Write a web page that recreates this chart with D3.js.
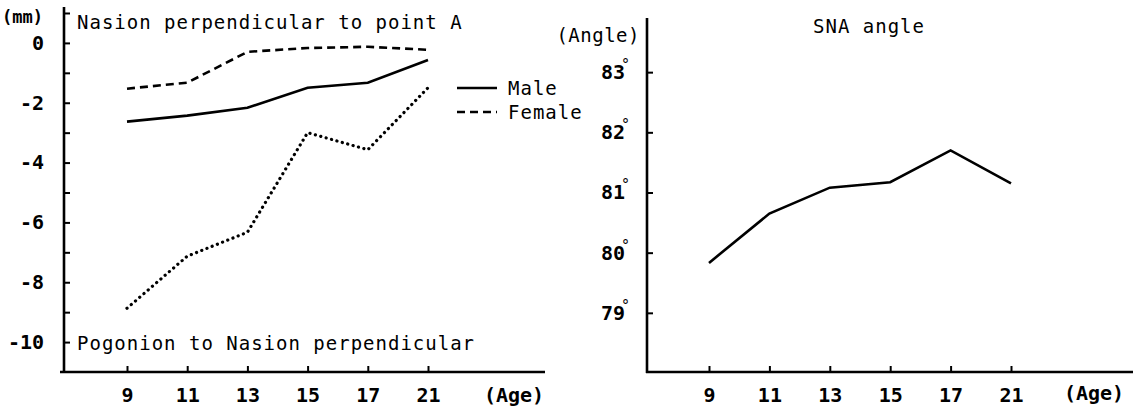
<!DOCTYPE html>
<html>
<head>
<meta charset="utf-8">
<script src="https://cdn.jsdelivr.net/npm/d3@7"></script>
<style>
  body { margin: 0; background: #fff; }
  svg text { font-family: "DejaVu Sans Mono", monospace; fill: #000; }
</style>
</head>
<body>
<div id="chart"></div>
<script>
// data
const ages = ['9', '11', '13', '15', '17', '21'];
const maleA = [-2.63, -2.43, -2.17, -1.5, -1.33, -0.57];
const femaleA = [-1.53, -1.33, -0.3, -0.17, -0.13, -0.23];
const pogonion = [-8.87, -7.13, -6.33, -3.0, -3.57, -1.5];
const snaAngle = [79.83, 80.65, 81.08, 81.17, 81.7, 81.15];
const mmTicks = [0, -2, -4, -6, -8, -10];
const angleTicks = [79, 80, 81, 82, 83];

const width = 1140;
const height = 409;

const svg = d3.select('#chart')
  .append('svg')
  .attr('width', width)
  .attr('height', height);

// ---------- left panel ----------
const left = {axisX: 64, axisY: 372};

const xLeft = d3.scalePoint()
  .domain(ages)
  .range([127, 428]);

const yLeft = d3.scaleLinear()
  .domain([-11, 1.2])
  .range([left.axisY, 7]);

const gLeft = svg.append('g').attr('id', 'left-panel');

// axis lines
gLeft.append('line')
  .attr('x1', left.axisX).attr('x2', left.axisX)
  .attr('y1', yLeft(1.2)).attr('y2', left.axisY + 1)
  .attr('stroke', '#000').attr('stroke-width', 2.6);
gLeft.append('line')
  .attr('x1', 60).attr('x2', 545)
  .attr('y1', left.axisY).attr('y2', left.axisY)
  .attr('stroke', '#000').attr('stroke-width', 2.6);

const yAxisLeft = d3.axisLeft(yLeft)
  .tickValues(d3.range(-10, 2))
  .tickSizeInner(-6)
  .tickSizeOuter(0)
  .tickPadding(20)
  .tickFormat(d => mmTicks.includes(d) ? (d === 0 ? '0' : '-' + Math.abs(d)) : '');

gLeft.append('g')
  .attr('transform', `translate(${left.axisX}, 0)`)
  .call(yAxisLeft)
  .call(g => g.select('.domain').remove())
  .call(g => g.selectAll('line').attr('stroke', '#000').attr('stroke-width', 2))
  .call(g => g.selectAll('text')
    .attr('font-size', 20)
    .attr('font-weight', 'bold')
    .attr('font-family', 'DejaVu Sans Mono'));

const xAxisLeft = d3.axisBottom(xLeft)
  .tickSizeInner(-6)
  .tickSizeOuter(0)
  .tickPadding(16);

gLeft.append('g')
  .attr('transform', `translate(0, ${left.axisY})`)
  .call(xAxisLeft)
  .call(g => g.select('.domain').remove())
  .call(g => g.selectAll('line').attr('stroke', '#000').attr('stroke-width', 2))
  .call(g => g.selectAll('text')
    .attr('font-size', 20)
    .attr('font-weight', 'bold')
    .attr('font-family', 'DejaVu Sans Mono'));

gLeft.append('text')
  .text('(Age)')
  .attr('x', 514).attr('y', 402)
  .attr('text-anchor', 'middle')
  .attr('font-size', 20)
  .attr('font-weight', 'bold');

gLeft.append('text')
  .text('(mm)')
  .attr('x', 2).attr('y', 23)
  .attr('font-size', 17)
  .attr('font-weight', 'bold');

gLeft.append('text')
  .text('Nasion perpendicular to point A')
  .attr('x', 77).attr('y', 29)
  .attr('font-size', 19)
  .attr('letter-spacing', 1);

gLeft.append('text')
  .text('Pogonion to Nasion perpendicular')
  .attr('x', 77).attr('y', 350)
  .attr('font-size', 19)
  .attr('letter-spacing', 1);

const lineLeft = d3.line()
  .x((d, i) => xLeft(ages[i]))
  .y(d => yLeft(d));

const leftSeries = [
  {name: 'male', values: maleA, dash: null, width: 2.6, cap: 'butt'},
  {name: 'female', values: femaleA, dash: '8,5', width: 2.6, cap: 'butt'},
  {name: 'pogonion', values: pogonion, dash: '0.1,5.5', width: 3.2, cap: 'round'}
];

gLeft.selectAll('path.series')
  .data(leftSeries)
  .enter()
  .append('path')
  .attr('class', 'series')
  .attr('id', d => `line-${d.name}`)
  .attr('d', d => lineLeft(d.values))
  .attr('fill', 'none')
  .attr('stroke', '#000')
  .attr('stroke-width', d => d.width)
  .attr('stroke-linecap', d => d.cap)
  .attr('stroke-dasharray', d => d.dash);

// legend
const legend = gLeft.append('g').attr('id', 'legend');
const legendItems = [
  {label: 'Male', dash: null, y: 88},
  {label: 'Female', dash: '8,5', y: 112}
];
legend.selectAll('line')
  .data(legendItems)
  .enter()
  .append('line')
  .attr('x1', 457).attr('x2', 497)
  .attr('y1', d => d.y).attr('y2', d => d.y)
  .attr('stroke', '#000')
  .attr('stroke-width', 2.4)
  .attr('stroke-dasharray', d => d.dash);
legend.selectAll('text')
  .data(legendItems)
  .enter()
  .append('text')
  .text(d => d.label)
  .attr('x', 508)
  .attr('y', d => d.y + 7)
  .attr('font-size', 19)
  .attr('letter-spacing', 1);

// ---------- right panel ----------
const right = {axisX: 647, axisY: 372};

const xRight = d3.scalePoint()
  .domain(ages)
  .range([709, 1011]);

const yRight = d3.scaleLinear()
  .domain([78, 83.9])
  .range([373, 18]);

const gRight = svg.append('g').attr('id', 'right-panel');

gRight.append('line')
  .attr('x1', right.axisX).attr('x2', right.axisX)
  .attr('y1', yRight(83.9)).attr('y2', right.axisY + 1)
  .attr('stroke', '#000').attr('stroke-width', 2.6);
gRight.append('line')
  .attr('x1', right.axisX - 1).attr('x2', 1133)
  .attr('y1', right.axisY).attr('y2', right.axisY)
  .attr('stroke', '#000').attr('stroke-width', 2.6);

const yAxisRight = d3.axisLeft(yRight)
  .tickValues(angleTicks)
  .tickSizeInner(-6)
  .tickSizeOuter(0)
  .tickPadding(17)
  .tickFormat(d3.format('d'));

gRight.append('g')
  .attr('transform', `translate(${right.axisX}, 0)`)
  .call(yAxisRight)
  .call(g => g.select('.domain').remove())
  .call(g => g.selectAll('line').attr('stroke', '#000').attr('stroke-width', 2))
  .call(g => g.selectAll('text')
    .attr('font-size', 20)
    .attr('font-weight', 'bold')
    .attr('font-family', 'DejaVu Sans Mono'))
  .call(g => g.selectAll('text')
    .append('tspan')
    .text('°')
    .attr('font-size', 15)
    .attr('font-weight', 'normal')
    .attr('dx', -4)
    .attr('dy', -9));

const xAxisRight = d3.axisBottom(xRight)
  .tickSizeInner(-6)
  .tickSizeOuter(0)
  .tickPadding(16);

gRight.append('g')
  .attr('transform', `translate(0, ${right.axisY})`)
  .call(xAxisRight)
  .call(g => g.select('.domain').remove())
  .call(g => g.selectAll('line').attr('stroke', '#000').attr('stroke-width', 2))
  .call(g => g.selectAll('text')
    .attr('font-size', 20)
    .attr('font-weight', 'bold')
    .attr('font-family', 'DejaVu Sans Mono'));

gRight.append('text')
  .text('(Age)')
  .attr('x', 1094).attr('y', 400)
  .attr('text-anchor', 'middle')
  .attr('font-size', 20)
  .attr('font-weight', 'bold');

gRight.append('text')
  .text('(Angle)')
  .attr('x', 640).attr('y', 42)
  .attr('text-anchor', 'end')
  .attr('font-size', 19)
  .attr('letter-spacing', 0.5);

gRight.append('text')
  .text('SNA angle')
  .attr('x', 869).attr('y', 33)
  .attr('text-anchor', 'middle')
  .attr('font-size', 19)
  .attr('letter-spacing', 1);

const lineRight = d3.line()
  .x((d, i) => xRight(ages[i]))
  .y(d => yRight(d));

gRight.append('path')
  .attr('id', 'line-sna')
  .attr('d', lineRight(snaAngle))
  .attr('fill', 'none')
  .attr('stroke', '#000')
  .attr('stroke-width', 2.6);
</script>
</body>
</html>
